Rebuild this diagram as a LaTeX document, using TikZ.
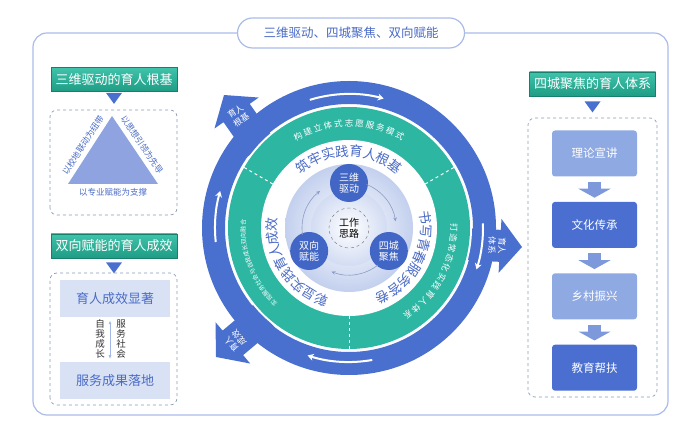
\documentclass[tikz,border=0pt]{standalone}
\usepackage{fontspec}
\setmainfont{Noto Sans CJK SC}
\usetikzlibrary{arrows.meta,positioning}
\definecolor{frameblue}{HTML}{A9BCE8}
\definecolor{ringblue}{HTML}{4A70CF}
\definecolor{ringteal}{HTML}{2DB6A2}
\definecolor{headtop}{HTML}{3FC3AA}
\definecolor{headbot}{HTML}{1F9C85}
\definecolor{headdark}{HTML}{17806D}
\definecolor{textblue}{HTML}{4A6BC6}
\definecolor{boxdark}{HTML}{4A6FD0}
\definecolor{boxlight}{HTML}{8FA9E2}
\definecolor{boxpale}{HTML}{D9E2F5}
\definecolor{arrowblue}{HTML}{7D99DC}
\definecolor{dashgray}{HTML}{8C9BB8}
\definecolor{trifill}{HTML}{8EA3DF}
\definecolor{circblue}{HTML}{4166C6}
\definecolor{shadeblue}{HTML}{C3D0EE}
\definecolor{arcgray}{HTML}{8E9CC4}
\newcommand{\tightlines}{\lineskiplimit -5pt\relax}
\tikzset{
  titlebox/.style={draw=frameblue, fill=white, line width=1.2pt, rounded corners=15pt,
    minimum width=227pt, minimum height=30pt, text=textblue, font=\fontsize{12.5}{14}\selectfont},
  headbox/.style={draw=headdark, line width=0.8pt, top color=headtop, bottom color=headbot,
    text=white, minimum width=126pt, minimum height=24pt, font=\fontsize{13}{15}\selectfont},
  dashbox/.style={draw=dashgray, dashed, rounded corners=7pt, line width=0.7pt},
  palebox/.style={fill=boxpale, text=textblue, minimum width=110pt, minimum height=37pt,
    font=\fontsize{13}{15}\selectfont},
  darkbox/.style={fill=boxdark, text=white, rounded corners=3pt, minimum width=85pt,
    minimum height=46pt, font=\fontsize{11.5}{13}\selectfont},
  lightbox/.style={darkbox, fill=boxlight},
  blockarrow/.style={draw=arrowblue, line width=13pt, -{Triangle[length=9pt,width=32pt]},
    shorten <=5pt, shorten >=4pt},
  tritext/.style={text=textblue, font=\fontsize{8.5}{10}\selectfont},
  vtext/.style={align=center, text=black!80, inner sep=0pt,
    font={\fontsize{9.5}{10}\selectfont\tightlines}},
  smallcirc/.style={circle, fill=circblue, text=white, minimum size=38pt, inner sep=0pt,
    align=center, font={\fontsize{10}{11.5}\selectfont\tightlines}},
  spurtext/.style={text=white, align=center, inner sep=0pt,
    font={\fontsize{8.5}{10}\selectfont\tightlines}},
  whitetext/.style={text=textblue, inner sep=0pt, font=\fontsize{13.5}{15}\selectfont},
  tealtext/.style={text=white, inner sep=0pt, font=\fontsize{8.5}{10}\selectfont}
}
\begin{document}
\begin{tikzpicture}[x=1pt, y=1pt, >=Latex]
    \useasboundingbox (0,0) rectangle (700,447);
    % 1. 外框与标题
    \draw[frameblue, line width=1.2pt, rounded corners=14pt] (33,32) rectangle (668,414);
    \node[titlebox] (title) at (351,414) {三维驱动、四城聚焦、双向赋能};

    % 2. 左上：三维驱动
    \node[headbox] (hgenji) at (114,367.5) {三维驱动的育人根基};
    \fill[ringblue] ([yshift=-1pt]hgenji.south) ++(-8,0) -- ++(16,0) -- ++(-8,-11) -- cycle;
    \draw[dashbox] (50,232) rectangle (177,337);
    \fill[trifill] (68,263) coordinate (ta) -- (112,331) coordinate (tb) -- (158,263) coordinate (tc) -- cycle;
    \node[tritext, rotate=57] (xiaodi) at (83,302) {以校地联动为纽带};
    \node[tritext, rotate=-56] (sixiang) at (142,302) {以思想引领为先导};
    \node[tritext] (zhuanye) at (113,255) {以专业赋能为支撑};

    % 3. 左下：双向赋能
    \node[headbox] (hchengxiao) at (114,201) {双向赋能的育人成效};
    \fill[ringblue] ([yshift=-4pt]hchengxiao.south) ++(-8,0) -- ++(16,0) -- ++(-8,-11) -- cycle;
    \draw[dashbox] (50,42) rectangle (177,174);
    \node[palebox] (xianzhu) at (115,148.5) {育人成效显著};
    \node[palebox, below=45pt of xianzhu] (luodi) {服务成果落地};
    \draw[{Latex[length=4pt]}-{Latex[length=4pt]}, arrowblue!70, line width=0.8pt, shorten <=3pt, shorten >=3pt]
        ([xshift=-5pt]xianzhu.south) -- ([xshift=-5pt]luodi.north);
    \node[vtext] (ziwo) at (100,108) {自\\我\\成\\长};
    \node[vtext] (shehui) at (121,108) {服\\务\\社\\会};

    % 4. 右侧：四城聚焦
    \node[headbox] (htixi) at (592.5,363) {四城聚焦的育人体系};
    \fill[ringblue] ([yshift=-5pt]htixi.south) ++(-8,0) -- ++(16,0) -- ++(-8,-11) -- cycle;
    \draw[dashbox] (528,50) rectangle (657,329);
    \node[lightbox] (lilun) at (594.5,293.5) {理论宣讲};
    \node[darkbox, below=25pt of lilun] (wenhua) {文化传承};
    \node[lightbox, below=25pt of wenhua] (xiangcun) {乡村振兴};
    \node[darkbox, below=25pt of xiangcun] (jiaoyu) {教育帮扶};
    \draw[blockarrow] (lilun.south) -- (wenhua.north);
    \draw[blockarrow] (wenhua.south) -- (xiangcun.north);
    \draw[blockarrow] (xiangcun.south) -- (jiaoyu.north);

    % 5. 中心圆环
    \coordinate (C) at (349,219);
    \fill[ringblue, even odd rule] (C) circle (147pt) (C) circle (124pt);
    \foreach \nm/\tx/\ty/\ang/\lbl in {sgenji/224/352/125/{育人\\根基},
        stixi/522/200/-3/{育人\\体系}, schengxiao/216/90/220/{育人\\成效}}{
      \begin{scope}[shift={(\tx,\ty)}, rotate=\ang]
        \fill[ringblue] (0,0) -- (-22,27) -- (-22,16) -- (-64,16) -- (-64,-16) -- (-22,-16) -- (-22,-27) -- cycle;
        \node[spurtext, rotate=\ang-90] (\nm) at (-25,0) {\lbl};
      \end{scope}
    }
    % 蓝环上的白色箭头
    \foreach \a/\b in {107/75, 2/-18, 280/252, 186/164}
      \draw[white, line width=2pt, -{Stealth[length=6pt,width=7pt]}] ([shift={(\a:134pt)}]C) arc (\a:\b:134pt);

    \fill[white] (C) circle (123pt);
    \fill[ringteal] (C) circle (121pt);
    \fill[white] (C) circle (88pt);
    \foreach \a in {150,30,270}
      \draw[white, dashed, line width=1pt] ([shift={(\a:88pt)}]C) -- ([shift={(\a:121pt)}]C);

    % 6. 环上文字（顺时针）
    \foreach \ch [count=\i, evaluate=\i as \a using 90+6*5.8-\i*5.8] in {构,建,立,体,式,志,愿,服,务,模,式}
      \node[tealtext, rotate=\a-90] (ta\i) at ([shift={(\a:105pt)}]C) {\ch};
    \foreach \ch [count=\i, evaluate=\i as \a using -28+6*5.6-\i*5.6] in {打,造,常,态,化,实,践,育,人,体,系}
      \node[tealtext, rotate=\a-90] (tb\i) at ([shift={(\a:105pt)}]C) {\ch};
    \foreach \ch [count=\i, evaluate=\i as \a using 201+8*3.4-\i*3.4] in {实,现,服,务,社,会,与,自,我,成,长,双,向,融,合}
      \node[tealtext, font=\fontsize{6}{7}\selectfont, rotate=\a-90] (tc\i) at ([shift={(\a:106pt)}]C) {\ch};
    \foreach \ch [count=\i, evaluate=\i as \a using 90+4.5*10.5-\i*10.5] in {筑,牢,实,践,育,人,根,基}
      \node[whitetext, rotate=\a-90] (wa\i) at ([shift={(\a:77pt)}]C) {\ch};
    \foreach \ch [count=\i, evaluate=\i as \a using -28+4.5*10.2-\i*10.2] in {书,写,青,春,服,务,答,卷}
      \node[whitetext, rotate=\a-90] (wb\i) at ([shift={(\a:77pt)}]C) {\ch};
    \foreach \ch [count=\i, evaluate=\i as \a using 213+4.5*10.2-\i*10.2] in {彰,显,实,践,育,人,成,效}
      \node[whitetext, rotate=\a-90] (wc\i) at ([shift={(\a:77pt)}]C) {\ch};

    % 7. 工作思路
    \shade[inner color=white, outer color=shadeblue] (C) circle (64pt);
    \shade[inner color=white, outer color=shadeblue!75] (C) circle (38pt);
    \node[circle, draw=black!55, dashed, minimum size=40pt, inner sep=0pt, align=center,
        font={\fontsize{10}{11.5}\selectfont\tightlines}] (silu) at (C) {工作\\思路};
    \node[smallcirc] (sanwei) at ([shift={(90:45pt)}]C) {三维\\驱动};
    \node[smallcirc] (sicheng) at ([shift={(-30:46pt)}]C) {四城\\聚焦};
    \node[smallcirc] (shuangxiang) at ([shift={(210:46pt)}]C) {双向\\赋能};
    \foreach \a in {68,-52,188}
      \draw[arcgray, line width=0.6pt, -{Stealth[length=4pt,width=3.5pt]}] ([shift={(\a:47pt)}]C) arc (\a:\a-60:47pt);
\end{tikzpicture}
\end{document}
